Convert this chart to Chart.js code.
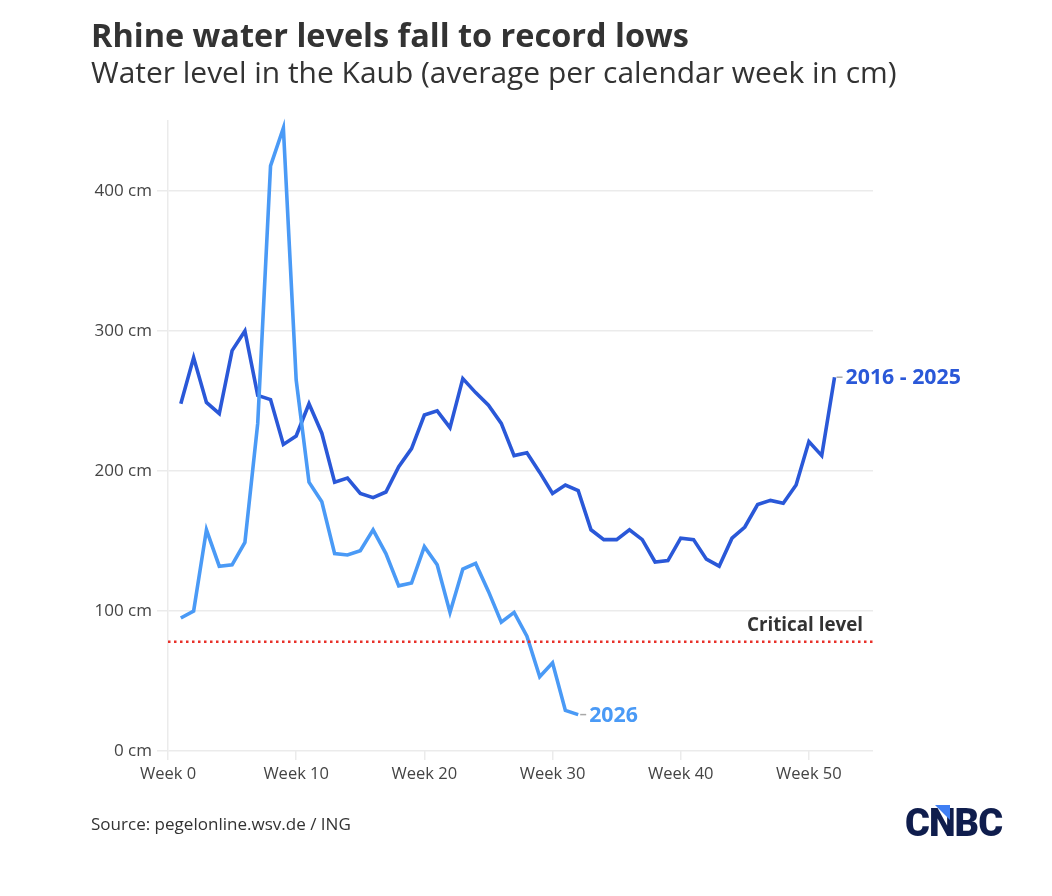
<!DOCTYPE html>
<html>
<head>
<meta charset="utf-8">
<script src="https://cdn.jsdelivr.net/npm/chart.js@4.4.1/dist/chart.umd.min.js"></script>
<style>
  html, body { margin: 0; padding: 0; background: #ffffff; }
  #wrap { position: relative; width: 1052px; height: 896px; overflow: hidden; font-family: "Open Sans", Roboto, sans-serif; color: #333333; }
  #chart { position: absolute; left: 0; top: 0; }
  .txt { position: absolute; white-space: nowrap; line-height: 1; display: inline-block; }
  #title { left: 91px; top: 19px; font-size: 32.5px; font-weight: 700; color: #333333; }
  #subtitle { left: 91px; top: 57px; font-size: 28.5px; font-weight: 400; color: #333333; }
  #source { left: 91px; top: 815px; font-size: 16.5px; color: #333333; }
  #logo { left: 905px; top: 804px; font-family: Roboto, sans-serif; font-size: 38px; font-weight: 900; color: #0f1d4d; letter-spacing: -1px; }
  #tri { position: absolute; left: 935px; top: 805px; width: 15px; height: 15px; background: #3f7ff4; clip-path: polygon(0 0, 100% 0, 100% 100%); }
</style>
</head>
<body>
<div id="wrap">
  <canvas id="chart" width="1052" height="896"></canvas>
  <div class="txt" id="title" data-w="598">Rhine water levels fall to record lows</div>
  <div class="txt" id="subtitle" data-w="806">Water level in the Kaub (average per calendar week in cm)</div>
  <div class="txt" id="source" data-w="260">Source: pegelonline.wsv.de / ING</div>
  <div class="txt" id="logo">CNBC</div>
  <div id="tri"></div>
</div>
<script>
// ---- Data ----
const weeksHistoric = Array.from({length: 52}, (_, i) => i + 1);
const levelsHistoric = [248, 281, 249, 241, 286, 300, 254, 251, 219, 225, 248, 227, 192, 195, 184, 181, 185, 203, 216, 240, 243, 231, 266, 256, 247, 234, 211, 213, 199, 184, 190, 186, 158, 151, 151, 158, 151, 135, 136, 152, 151, 137, 132, 152, 160, 176, 179, 177, 190, 221, 211, 267];
const weeks2026 = Array.from({length: 32}, (_, i) => i + 1);
const levels2026 = [95, 100, 158, 132, 133, 149, 234, 418, 445, 265, 192, 178, 141, 140, 143, 158, 141, 118, 120, 146, 133, 99, 130, 134, 114, 92, 99, 82, 53, 63, 29, 26];
const criticalLevel = 78;
const criticalSpan = [0, 55];
const seriesNames = ["2016 - 2025", "2026"];
const xTickValues = [0, 10, 20, 30, 40, 50];
const yTickValues = [0, 100, 200, 300, 400];

const colorHistoric = '#2a58d8';
const color2026 = '#4a9af6';
const gridColor = '#ebebeb';
const FONT = '"Open Sans", Roboto, sans-serif';

// fit HTML text to the measured widths of the reference
document.querySelectorAll('[data-w]').forEach(el => {
  const target = parseFloat(el.dataset.w);
  const w = el.getBoundingClientRect().width;
  const fs = parseFloat(getComputedStyle(el).fontSize);
  if (w > 0) el.style.fontSize = (fs * target / w).toFixed(2) + 'px';
});

const toPoints = (xs, ys) => xs.map((x, i) => ({x: x, y: ys[i]}));

const labelPlugin = {
  id: 'endLabels',
  afterDatasetsDraw(chart) {
    const ctx = chart.ctx;
    const xs = chart.scales.x, ys = chart.scales.y;
    ctx.save();
    [0, 1].forEach(di => {
      const meta = chart.getDatasetMeta(di);
      const pt = meta.data[meta.data.length - 1];
      const col = chart.data.datasets[di].borderColor;
      ctx.strokeStyle = '#a8a8a8';
      ctx.lineWidth = 1.5;
      ctx.beginPath();
      ctx.moveTo(pt.x + 2, pt.y);
      ctx.lineTo(pt.x + 8, pt.y);
      ctx.stroke();
      ctx.fillStyle = col;
      ctx.font = '700 21.3px ' + FONT;
      ctx.textAlign = 'left';
      ctx.textBaseline = 'middle';
      ctx.fillText(seriesNames[di], pt.x + 11, pt.y + 1);
    });
    ctx.fillStyle = '#333333';
    ctx.font = '700 18.8px ' + FONT;
    ctx.textAlign = 'right';
    ctx.textBaseline = 'middle';
    ctx.fillText('Critical level', xs.right - 10, ys.getPixelForValue(criticalLevel) - 16);
    ctx.restore();
  }
};

new Chart(document.getElementById('chart'), {
  type: 'line',
  data: {
    datasets: [
      {
        label: seriesNames[0],
        data: toPoints(weeksHistoric, levelsHistoric),
        borderColor: colorHistoric,
        borderWidth: 3.6,
        pointRadius: 0,
        tension: 0,
        clip: false,
        order: 2
      },
      {
        label: seriesNames[1],
        data: toPoints(weeks2026, levels2026),
        borderColor: color2026,
        borderWidth: 3.6,
        pointRadius: 0,
        tension: 0,
        clip: false,
        order: 1
      },
      {
        label: 'Critical level',
        data: criticalSpan.map(x => ({x: x, y: criticalLevel})),
        borderColor: '#e8312a',
        borderWidth: 2.5,
        borderDash: [2.5, 3.5],
        pointRadius: 0,
        clip: false,
        order: 0
      }
    ]
  },
  options: {
    responsive: false,
    animation: false,
    devicePixelRatio: 1,
    layout: { padding: { left: 0, top: 121, right: 179, bottom: 115 } },
    plugins: { legend: { display: false }, tooltip: { enabled: false }, title: { display: false } },
    scales: {
      x: {
        type: 'linear',
        min: 0,
        max: 55,
        afterBuildTicks: s => { s.ticks = xTickValues.map(v => ({value: v})); },
        afterFit: s => { s.height = 30; },
        grid: { display: true, drawOnChartArea: false, drawTicks: true, tickLength: 9, color: gridColor, lineWidth: 1.5 },
        border: { display: false },
        ticks: {
          color: '#444444',
          font: { family: FONT, size: 16.5 },
          padding: 4,
          maxRotation: 0,
          callback: v => 'Week ' + v
        }
      },
      y: {
        min: 0,
        max: 450,
        afterBuildTicks: s => { s.ticks = yTickValues.map(v => ({value: v})); },
        afterFit: s => { s.width = 168; },
        grid: { display: true, drawTicks: true, tickLength: 11, color: gridColor, lineWidth: 1.5 },
        border: { display: true, color: gridColor, width: 1.5 },
        ticks: {
          color: '#444444',
          font: { family: FONT, size: 17 },
          padding: 5,
          callback: v => v + ' cm'
        }
      }
    }
  },
  plugins: [labelPlugin]
});
</script>
</body>
</html>
